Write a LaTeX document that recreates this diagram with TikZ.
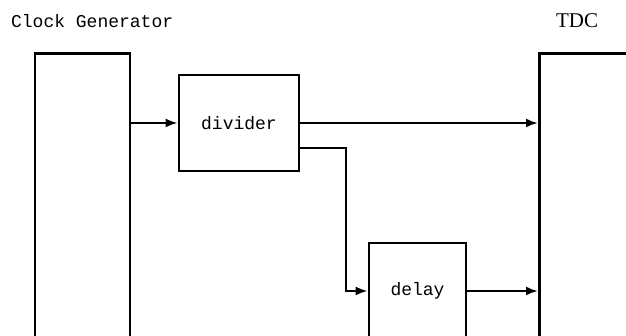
\documentclass[tikz,border=0pt]{standalone}
\usepackage{fontspec}
\setmainfont{Liberation Serif}
\setmonofont{Liberation Mono}
\usetikzlibrary{positioning, arrows.meta}

\begin{document}
\begin{tikzpicture}[x=1pt, y=1pt, line width=2.2pt,
	block/.style={draw, line width=2.8pt, inner sep=0pt, font=\ttfamily\fontsize{18}{18}\selectfont},
	wire/.style={-{Latex[length=12pt, width=9pt]}}]
	\clip (0,0) rectangle (626,336);
	% blocks (the big ones run off the page)
	\node (clk) [block, anchor=north, minimum width=95pt, minimum height=330pt] at (82.5,284) {};
	\node (div) [block, minimum width=120pt, minimum height=96pt] at (239,213) {divider};
	\node (dly) [block, minimum width=97pt, minimum height=96pt] at (417.5,45) {delay};
	\node (tdc) [block, anchor=north west, minimum width=150pt, minimum height=330pt] at (538,284) {};
	\node (clklbl) [anchor=base west, inner sep=0pt, font=\ttfamily\fontsize{18}{18}\selectfont] at (10,308) {Clock Generator};
	\node (tdclbl) [anchor=base, inner sep=0pt, font=\fontsize{21}{21}\selectfont] at (577,308) {TDC};
	\coordinate (turn) at (346,188);
	\draw[wire] (div.west -| clk.east) -- (div.west);
	\draw[wire] (div.east) -- (div.east -| tdc.west);
	\draw[wire] (div.east |- turn) -- (turn) |- (dly.west);
	\draw[wire] (dly.east) -- (dly.east -| tdc.west);
\end{tikzpicture}
\end{document}
